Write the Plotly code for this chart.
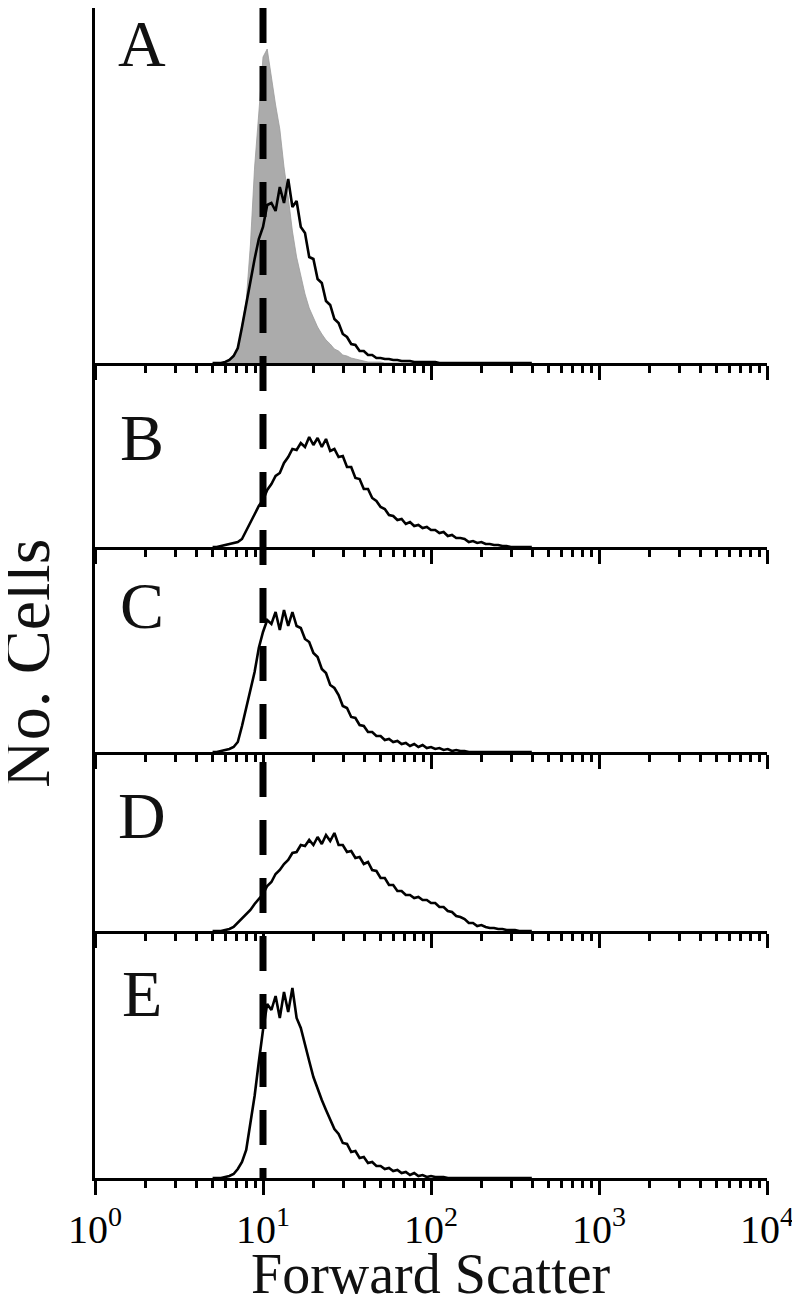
import numpy as np
import plotly.graph_objects as go

# Forward-scatter channels (log10 bin centres, 0.70 .. 2.60)
log_channels = np.round(np.arange(0.70, 2.6001, 0.025), 3)
fsc = (10 ** log_channels).tolist()

# Cell counts per channel (arbitrary units)
panel_A_control = [0, 0, 0, 1, 3, 7, 13, 38, 62, 118,
                   196, 250, 306, 314, 284, 258, 234, 196, 166, 132,
                   106, 88, 69, 55, 45, 36, 29, 23, 19, 14,
                   12, 8, 7, 5, 4, 3, 2, 1, 1, 1,
                   1, 0, 0, 0, 0, 0, 0, 0, 0, 0,
                   0, 0, 0, 0, 0, 0, 0, 0, 0, 0,
                   0, 0, 0, 0, 0, 0, 0, 0, 0, 0,
                   0, 0, 0, 0, 0, 0, 0]
panel_A = [0, 0, 0, 1, 3, 7, 15, 36, 60, 84,
           104, 124, 136, 158, 160, 152, 176, 160, 184, 156,
           162, 136, 130, 106, 104, 84, 80, 62, 58, 44,
           40, 29, 26, 19, 18, 12, 12, 8, 8, 5,
           5, 4, 4, 3, 3, 2, 2, 2, 1, 1,
           1, 1, 1, 1, 0, 0, 0, 0, 0, 0,
           0, 0, 0, 0, 0, 0, 0, 0, 0, 0,
           0, 0, 0, 0, 0, 0, 0]
panel_B = [0, 0, 1, 2, 3, 4, 5, 8, 16, 24,
           33, 41, 47, 57, 63, 71, 74, 84, 90, 98,
           97, 104, 100, 110, 102, 109, 100, 108, 96, 98,
           90, 91, 80, 80, 69, 68, 58, 58, 49, 46,
           40, 38, 32, 31, 27, 28, 23, 25, 21, 22,
           19, 20, 17, 17, 14, 15, 11, 12, 9, 9,
           8, 5, 6, 4, 5, 3, 3, 2, 2, 1,
           1, 0, 0, 0, 0, 0, 0]
panel_C = [0, 0, 1, 2, 3, 5, 10, 26, 43, 62,
           80, 104, 120, 132, 128, 140, 122, 142, 126, 140,
           126, 124, 113, 110, 99, 95, 83, 79, 67, 64,
           57, 46, 44, 35, 34, 27, 26, 20, 20, 16,
           16, 12, 13, 10, 11, 8, 9, 6, 8, 5,
           7, 4, 5, 3, 4, 2, 3, 1, 2, 1,
           1, 0, 0, 0, 0, 0, 0, 0, 0, 0,
           0, 0, 0, 0, 0, 0, 0]
panel_D = [0, 0, 0, 1, 2, 4, 8, 12, 17, 21,
           27, 32, 37, 45, 49, 57, 61, 67, 71, 78,
           79, 86, 85, 91, 86, 94, 87, 96, 90, 98,
           86, 86, 79, 80, 73, 74, 67, 69, 61, 60,
           53, 53, 46, 46, 40, 40, 36, 36, 33, 34,
           31, 31, 28, 28, 24, 24, 20, 19, 15, 14,
           12, 8, 8, 5, 6, 4, 3, 3, 2, 2,
           1, 1, 1, 0, 0, 0, 0]
panel_E = [0, 0, 0, 1, 2, 4, 9, 16, 28, 55,
           82, 116, 148, 174, 168, 182, 160, 186, 166, 190,
           160, 150, 132, 117, 101, 89, 78, 68, 58, 49,
           44, 35, 34, 26, 27, 20, 21, 15, 16, 12,
           12, 9, 10, 7, 8, 5, 6, 3, 5, 2,
           3, 1, 2, 1, 1, 1, 0, 0, 0, 0,
           0, 0, 0, 0, 0, 0, 0, 0, 0, 0,
           0, 0, 0, 0, 0, 0, 0]

panel_labels = ["A", "B", "C", "D", "E"]
panel_series = [panel_A, panel_B, panel_C, panel_D, panel_E]
gate_value = 10

major_ticks = [1, 10, 100, 1000, 10000]
major_text = ["10<sup>0</sup>", "10<sup>1</sup>", "10<sup>2</sup>", "10<sup>3</sup>", "10<sup>4</sup>"]
minor_ticks = [m * d for d in [1, 10, 100, 1000] for m in range(2, 10)]

# ---- geometry (page pixels; the page body adds an 8px offset) ----
OFF = 8
W, H = 800 - OFF, 1295 - OFF
L, R = 95 - OFF, 33
page_edges = [OFF, 363, 547, 752, 931, 1178]
fig_edges = [e - OFF for e in page_edges]
plot_h = float(fig_edges[-1] - fig_edges[0])
B = H - fig_edges[-1]
plot_w = float(W - L - R)


def py(page_y):
    return (fig_edges[-1] - (page_y - OFF)) / plot_h


def px(page_x):
    return (page_x - OFF - L) / plot_w


domains = [[py(page_edges[i + 1]), py(page_edges[i])] for i in range(5)]
panel_ymax = [page_edges[i + 1] - page_edges[i] for i in range(5)]
label_y_px = [43, 437, 605, 815, 993]

FONT = "Liberation Serif, Times New Roman, serif"

fig = go.Figure()

for i in range(5):
    ax = "" if i == 0 else str(i + 1)
    if i == 0:
        fig.add_trace(go.Scatter(
            x=fsc, y=panel_A_control, mode="lines", fill="tozeroy",
            line=dict(color="#9a9a9a", width=0.8), fillcolor="#ababab",
            xaxis="x" + ax, yaxis="y" + ax, showlegend=False, hoverinfo="skip"))
    fig.add_trace(go.Scatter(
        x=fsc, y=panel_series[i], mode="lines",
        line=dict(color="black", width=2.6),
        xaxis="x" + ax, yaxis="y" + ax, showlegend=False, hoverinfo="skip"))

# dashed gate line across all panels (overlay axes)
fig.add_trace(go.Scatter(
    x=[gate_value, gate_value], y=[1, -0.012], mode="lines",
    line=dict(color="black", width=7, dash="35px,23px"),
    xaxis="x6", yaxis="y6", showlegend=False, hoverinfo="skip", cliponaxis=False))

layout = dict(
    width=W, height=H,
    margin=dict(l=L, r=R, t=0, b=B, autoexpand=False),
    paper_bgcolor="white", plot_bgcolor="rgba(0,0,0,0)",
    font=dict(family=FONT, color="black"),
)

for i in range(5):
    ax = "" if i == 0 else str(i + 1)
    layout["xaxis" + ax] = dict(
        type="log", range=[0, 4], domain=[0, 1], anchor="y" + ax,
        showline=True, linewidth=3, linecolor="black",
        ticks="outside", ticklen=14, tickwidth=3, tickcolor="black",
        tickvals=major_ticks, ticktext=major_text,
        showticklabels=(i == 4), tickfont=dict(family=FONT, size=40, color="black"),
        minor=dict(ticks="outside", ticklen=7, tickwidth=3, tickcolor="black",
                   tickvals=minor_ticks, showgrid=False),
        showgrid=False, zeroline=False, fixedrange=True,
    )
    layout["yaxis" + ax] = dict(
        domain=domains[i], range=[0, panel_ymax[i]], anchor="x" + ax,
        showline=True, linewidth=3, linecolor="black",
        ticks="", showticklabels=False, showgrid=False, zeroline=False,
    )

layout["xaxis6"] = dict(type="log", range=[0, 4], domain=[0, 1], anchor="y6",
                        visible=False, showgrid=False, zeroline=False)
layout["yaxis6"] = dict(range=[0, 1], domain=[0, 1], anchor="x6",
                        visible=False, showgrid=False, zeroline=False)

annotations = []
for i in range(5):
    annotations.append(dict(
        text=panel_labels[i], xref="paper", yref="paper",
        x=px(142), y=py(label_y_px[i]),
        xanchor="center", yanchor="middle", showarrow=False,
        font=dict(family=FONT, size=66, color="#111111")))
annotations.append(dict(
    text="Forward Scatter", xref="paper", yref="paper",
    x=px(431), y=py(1274), xanchor="center", yanchor="middle",
    showarrow=False, font=dict(family=FONT, size=56, color="#111111")))
annotations.append(dict(
    text="No. Cells", xref="paper", yref="paper",
    x=px(26), y=py(664), xanchor="center", yanchor="middle",
    textangle=-90, showarrow=False, font=dict(family=FONT, size=66, color="#111111")))
layout["annotations"] = annotations

fig.update_layout(**layout)
fig.write_html("out.html")
